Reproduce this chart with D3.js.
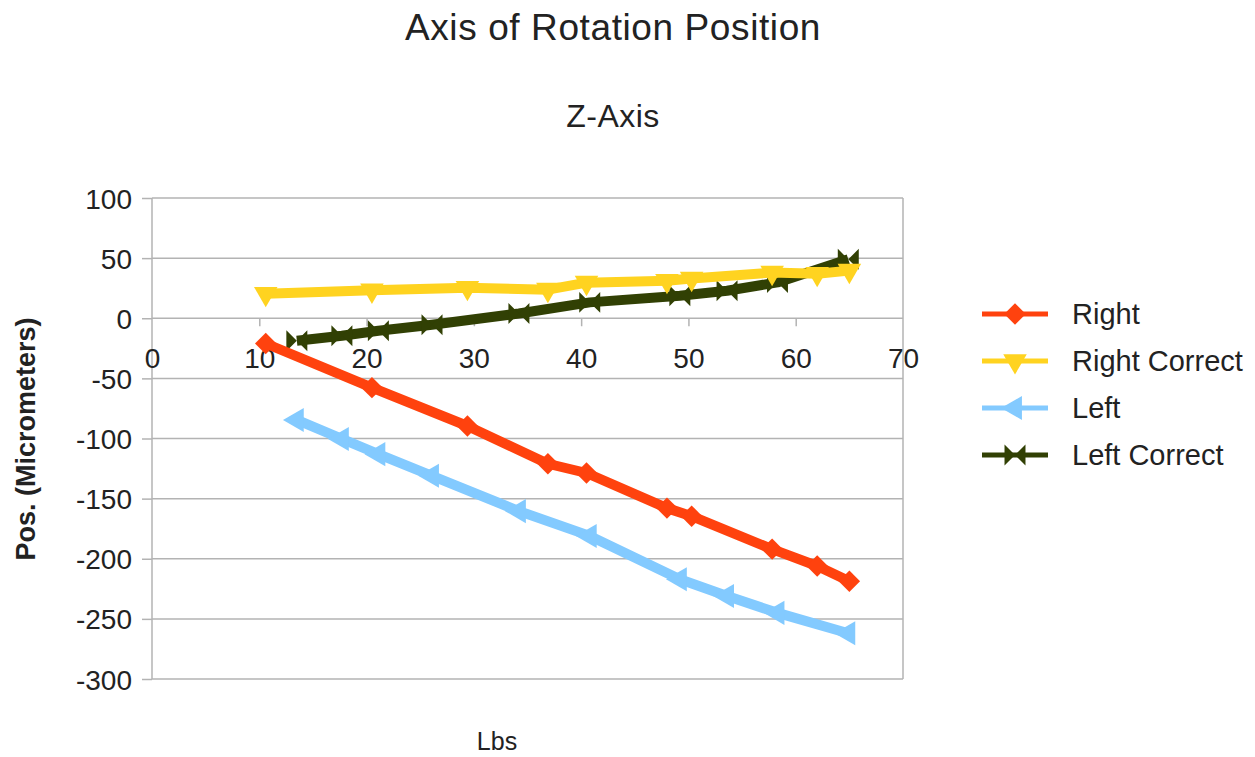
<!DOCTYPE html>
<html>
<head>
    <meta charset="utf-8">
    <script src="https://cdn.jsdelivr.net/npm/d3@7"></script>
</head>

<style>
    body { margin: 0; background: white; }
    text { font-family: "Liberation Sans", Arial, sans-serif; fill: #222; }
    .axis path { stroke: none; }
    .axis line { stroke: #b3b3b3; stroke-width: 1.5px; }
    .axis text { font-size: 28px; fill: #222; font-family: "Liberation Sans", Arial, sans-serif; }
    .grid line { stroke: #b3b3b3; stroke-width: 1.5px; }
</style>

<body>
<div id="chart"></div>

<script>

    // values
    var seriesNames = ['Right', 'Right Correct', 'Left', 'Left Correct'];
    var seriesColors = ['#ff420e', '#ffd320', '#83caff', '#314004'];

    var rightX = [10.6, 20.5, 29.4, 36.9, 40.5, 48.0, 50.3, 57.8, 62.0, 65.0];
    var rightY = [-21, -57.7, -89.6, -121, -128.7, -157.9, -164.6, -192, -206, -218.7];
    var rightCorrectY = [20.4, 23.2, 25.4, 23.8, 29.6, 31.2, 33, 38, 37, 39.6];

    var leftX = [13.5, 17.7, 21.1, 26.1, 34.2, 40.8, 49.2, 53.6, 58.3, 64.9];
    var leftY = [-84.6, -100.4, -113, -131, -160.4, -181, -217, -231, -245, -262];
    var leftCorrectY = [-18.7, -14.6, -10.4, -5.4, 4, 13.2, 18.7, 22.9, 29.8, 49];

    var xTicks = [0, 10, 20, 30, 40, 50, 60, 70];
    var yTicks = [100, 50, 0, -50, -100, -150, -200, -250, -300];

    var width = 1255, height = 757;

    var svg = d3.select('#chart').append('svg')
        .attr('width', width)
        .attr('height', height);

    var xScale = d3.scaleLinear()
        .domain([0, 70])
        .range([152, 903]);

    var yScale = d3.scaleLinear()
        .domain([-300, 100])
        .range([679, 198]);

    // marker shapes
    var bowtie = {
        draw: function(context, size) {
            var r = Math.sqrt(size) / 2;
            context.moveTo(-r, -r);
            context.lineTo(0, 0);
            context.lineTo(-r, r);
            context.closePath();
            context.moveTo(r, -r);
            context.lineTo(0, 0);
            context.lineTo(r, r);
            context.closePath();
        }
    };
    var markers = [
        { type: d3.symbolSquare, size: 230, rotate: 45 },
        { type: d3.symbolTriangle, size: 240, rotate: 180 },
        { type: d3.symbolTriangle, size: 250, rotate: -90 },
        { type: bowtie, size: 440, rotate: 0 }
    ];

    function zip(xs, ys) {
        return xs.map(function(x, i) { return { x: x, y: ys[i] }; });
    }
    var series = [
        zip(rightX, rightY),
        zip(rightX, rightCorrectY),
        zip(leftX, leftY),
        zip(leftX, leftCorrectY)
    ];

    // grid
    svg.append('g')
        .attr('class', 'grid')
        .selectAll('line')
        .data(yTicks)
        .enter()
        .append('line')
        .attr('x1', xScale(0))
        .attr('x2', xScale(70))
        .attr('y1', function(d) { return yScale(d); })
        .attr('y2', function(d) { return yScale(d); });

    svg.append('line')
        .attr('x1', xScale(70)).attr('x2', xScale(70))
        .attr('y1', yScale(100)).attr('y2', yScale(-300))
        .attr('stroke', '#b3b3b3')
        .attr('stroke-width', 1.5);

    svg.append('line')
        .attr('x1', xScale(0)).attr('x2', xScale(0))
        .attr('y1', yScale(100)).attr('y2', yScale(-300))
        .attr('stroke', '#b3b3b3')
        .attr('stroke-width', 1.5);

    // y axis
    svg.append('g')
        .attr('class', 'axis')
        .attr('transform', 'translate(' + xScale(0) + ',0)')
        .call(d3.axisLeft(yScale).tickValues(yTicks).tickSize(10).tickPadding(10)
            .tickFormat(function(d) { return String(d); }))
        .selectAll('text')
        .attr('dy', '0.36em');

    // x axis along zero
    var xAxis = svg.append('g')
        .attr('class', 'axis')
        .attr('transform', 'translate(0,' + yScale(0) + ')')
        .call(d3.axisBottom(xScale).tickValues(xTicks).tickSize(8).tickPadding(22)
            .tickFormat(function(d) { return String(d); }));
    xAxis.selectAll('.tick').filter(function(d) { return d === 0 || d === 70; })
        .select('line').remove();

    // lines and markers, drawn last series first
    var line = d3.line()
        .x(function(d) { return xScale(d.x); })
        .y(function(d) { return yScale(d.y); });

    for (var i = series.length - 1; i >= 0; i--) {
        var m = markers[i];
        svg.append('path')
            .datum(series[i])
            .attr('fill', 'none')
            .attr('stroke', seriesColors[i])
            .attr('stroke-width', 10)
            .attr('stroke-linejoin', 'round')
            .attr('d', line);

        svg.append('g')
            .selectAll('path')
            .data(series[i])
            .enter()
            .append('path')
            .attr('fill', seriesColors[i])
            .attr('d', d3.symbol().type(m.type).size(m.size))
            .attr('transform', function(d) {
                return 'translate(' + xScale(d.x) + ',' + yScale(d.y) + ') rotate(' + m.rotate + ')';
            });
    }

    // titles
    svg.append('text')
        .attr('x', 613)
        .attr('y', 40)
        .attr('text-anchor', 'middle')
        .style('font-size', '37px')
        .style('letter-spacing', '0.6px')
        .text('Axis of Rotation Position');

    svg.append('text')
        .attr('x', 613)
        .attr('y', 127)
        .attr('text-anchor', 'middle')
        .style('font-size', '32px')
        .style('letter-spacing', '0.5px')
        .text('Z-Axis');

    svg.append('text')
        .attr('transform', 'translate(35,439) rotate(-90)')
        .attr('text-anchor', 'middle')
        .style('font-size', '27px')
        .style('font-weight', 'bold')
        .text('Pos. (Micrometers)');

    svg.append('text')
        .attr('x', 497)
        .attr('y', 750)
        .attr('text-anchor', 'middle')
        .style('font-size', '25px')
        .text('Lbs');

    // legend
    var legend = svg.append('g')
        .attr('transform', 'translate(982,314)');

    var items = legend.selectAll('g')
        .data(seriesNames)
        .enter()
        .append('g')
        .attr('transform', function(d, i) { return 'translate(0,' + (i * 47) + ')'; });

    items.append('line')
        .attr('x1', 0).attr('x2', 66)
        .attr('stroke', function(d, i) { return seriesColors[i]; })
        .attr('stroke-width', 5);

    items.append('path')
        .attr('fill', function(d, i) { return seriesColors[i]; })
        .attr('d', function(d, i) { return d3.symbol().type(markers[i].type).size(markers[i].size)(); })
        .attr('transform', function(d, i) { return 'translate(33,0) rotate(' + markers[i].rotate + ')'; });

    items.append('text')
        .attr('x', 90)
        .attr('dy', '0.36em')
        .style('font-size', '29px')
        .text(function(d) { return d; });

</script>
</body>
</html>
